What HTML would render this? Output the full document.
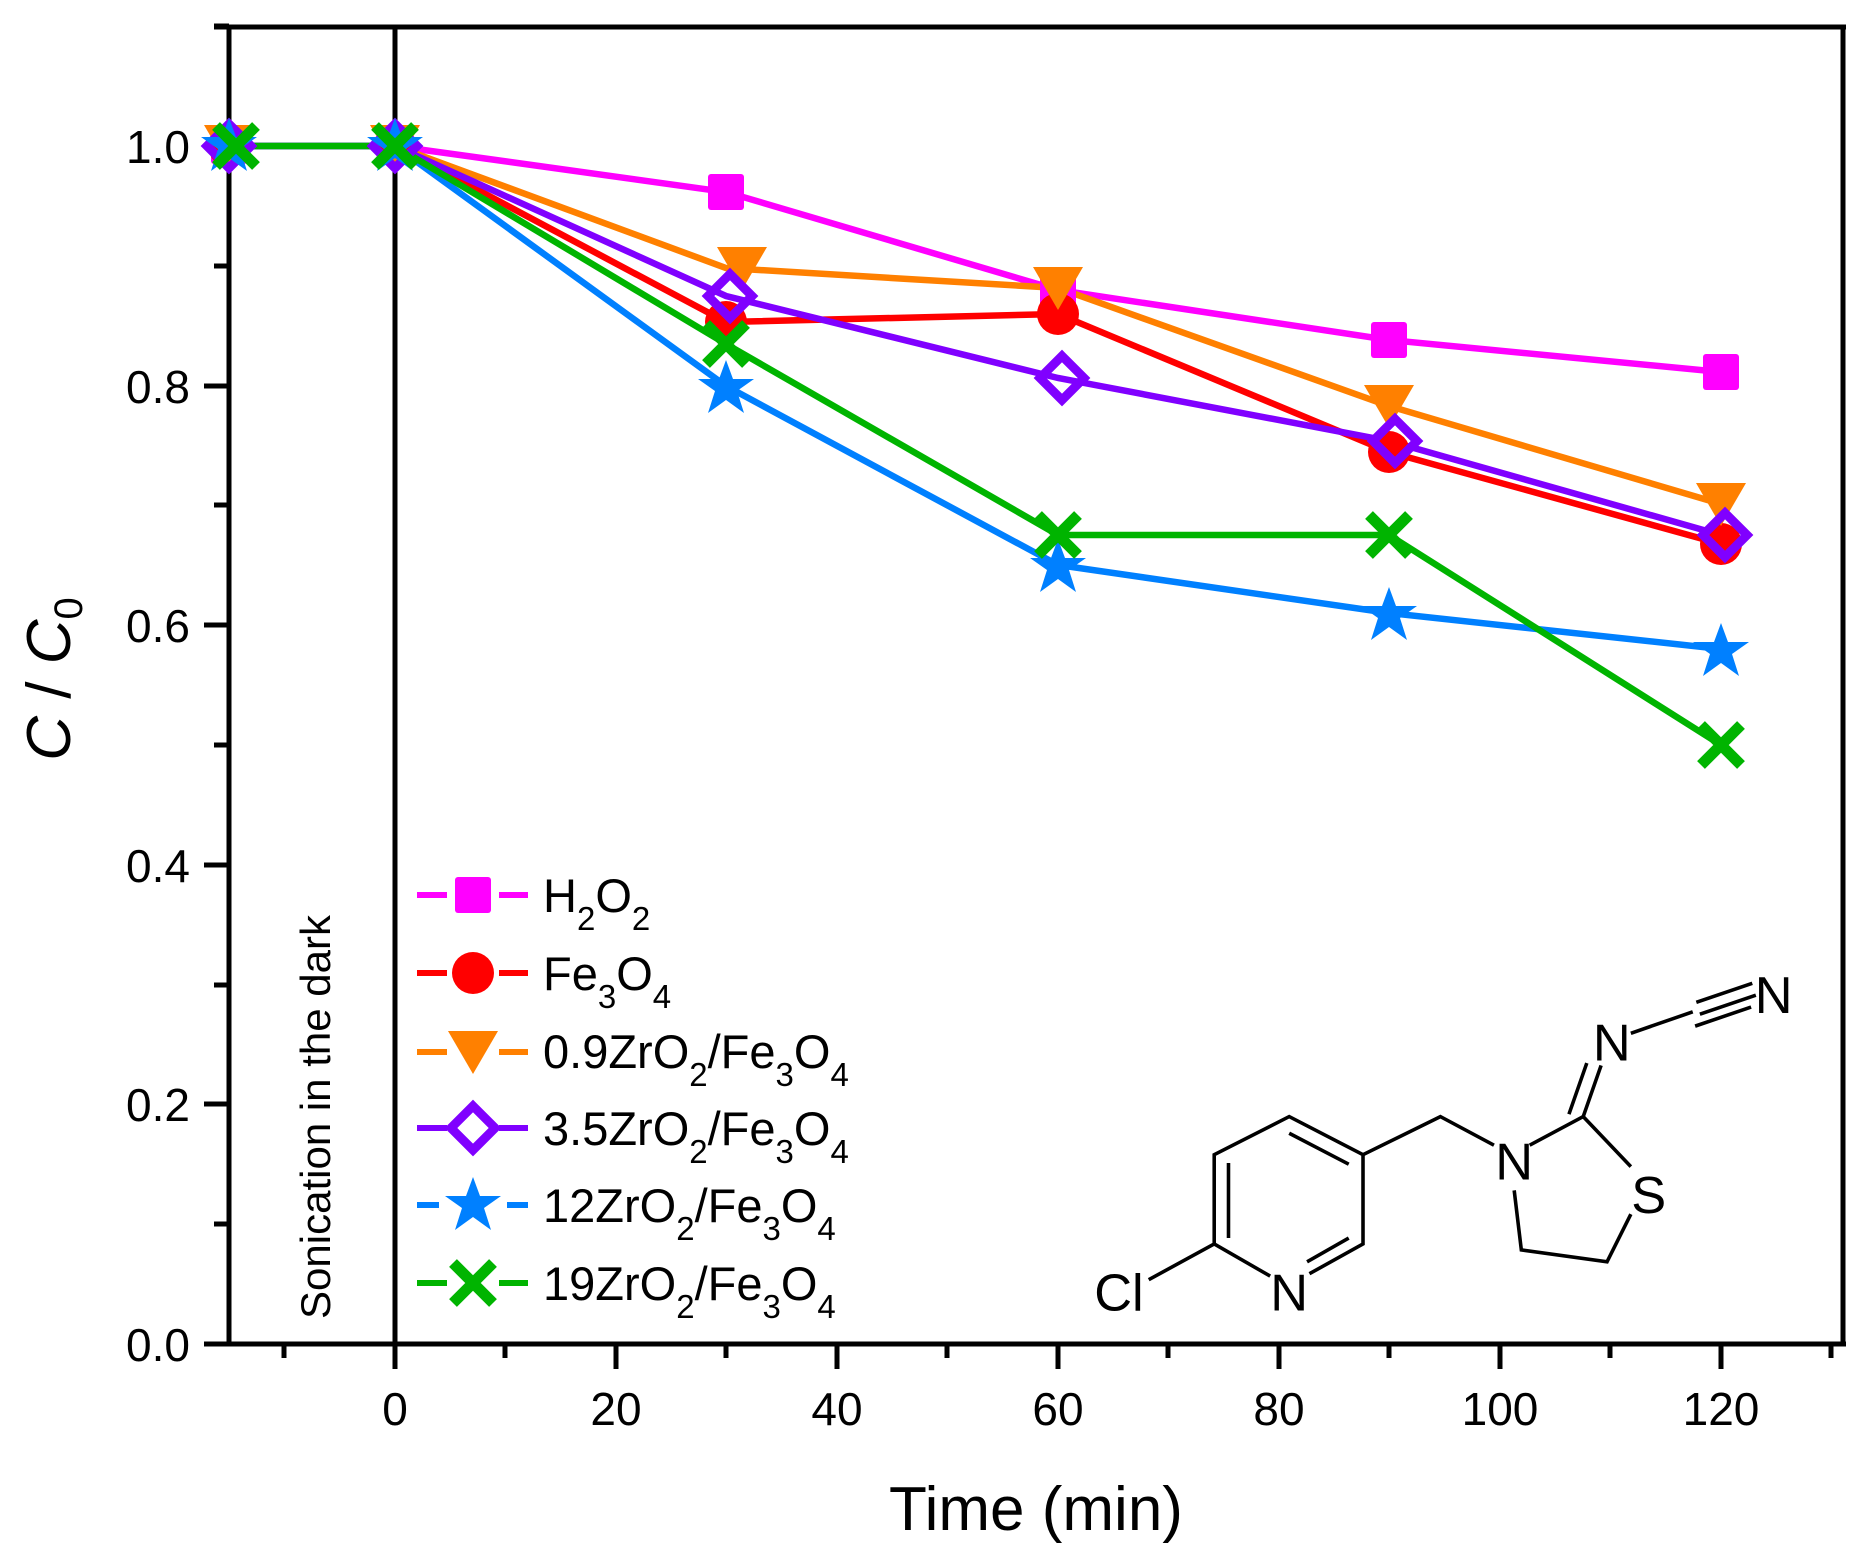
<!DOCTYPE html>
<html><head><style>body{margin:0;background:#fff}svg{display:block}</style></head><body>
<svg width="1857" height="1553" viewBox="0 0 1857 1553" xmlns="http://www.w3.org/2000/svg" font-family="Liberation Sans, sans-serif">
<defs>
<g id="sq"><rect x="-18" y="-18" width="36" height="36" rx="3" fill="#ff00ff"/></g>
<g id="ci"><circle r="21" fill="#ff0000"/></g>
<g id="tr"><path d="M-25,-21 L25,-21 L0,22 Z" fill="#ff8000"/></g>
<g id="di"><path d="M0,-22 L22,0 L0,22 L-22,0 Z" fill="none" stroke="#8000ff" stroke-width="9"/></g>
<g id="st"><path d="M0,-28 L7,-9 L28,-9 L11,3 L18,25 L0,12 L-18,25 L-11,3 L-28,-9 L-7,-9 Z" fill="#0080ff"/></g>
<g id="xx"><path d="M-20,-20 L20,20 M20,-20 L-20,20" stroke="#00b400" stroke-width="11"/></g>
</defs>
<g stroke="#000" stroke-width="5" fill="none">
<line x1="214" y1="27" x2="1846" y2="27"/>
<line x1="204" y1="1344" x2="1846" y2="1344"/>
<line x1="229" y1="27" x2="229" y2="1344"/>
<line x1="395" y1="27" x2="395" y2="1344"/>
<line x1="1843" y1="27" x2="1843" y2="1344"/>
</g>
<g stroke="#000" stroke-width="5">
<line x1="204" y1="1344" x2="229" y2="1344"/><line x1="214" y1="1224" x2="229" y2="1224"/>
<line x1="204" y1="1104" x2="229" y2="1104"/><line x1="214" y1="985" x2="229" y2="985"/>
<line x1="204" y1="865" x2="229" y2="865"/><line x1="214" y1="745" x2="229" y2="745"/>
<line x1="204" y1="625" x2="229" y2="625"/><line x1="214" y1="505" x2="229" y2="505"/>
<line x1="204" y1="386" x2="229" y2="386"/><line x1="214" y1="266" x2="229" y2="266"/>
<line x1="204" y1="146" x2="229" y2="146"/><line x1="214" y1="26" x2="229" y2="26"/>
</g>
<g stroke="#000" stroke-width="5">
<line x1="284" y1="1344" x2="284" y2="1358"/>
<line x1="395" y1="1344" x2="395" y2="1369"/><line x1="505" y1="1344" x2="505" y2="1358"/>
<line x1="616" y1="1344" x2="616" y2="1369"/><line x1="726" y1="1344" x2="726" y2="1358"/>
<line x1="837" y1="1344" x2="837" y2="1369"/><line x1="947" y1="1344" x2="947" y2="1358"/>
<line x1="1058" y1="1344" x2="1058" y2="1369"/><line x1="1168" y1="1344" x2="1168" y2="1358"/>
<line x1="1279" y1="1344" x2="1279" y2="1369"/><line x1="1389" y1="1344" x2="1389" y2="1358"/>
<line x1="1500" y1="1344" x2="1500" y2="1369"/><line x1="1610" y1="1344" x2="1610" y2="1358"/>
<line x1="1721" y1="1344" x2="1721" y2="1369"/><line x1="1831" y1="1344" x2="1831" y2="1358"/>
</g>
<g font-size="46" text-anchor="end" fill="#000">
<text x="190" y="1361">0.0</text><text x="190" y="1121">0.2</text><text x="190" y="882">0.4</text>
<text x="190" y="642">0.6</text><text x="190" y="403">0.8</text><text x="190" y="163">1.0</text>
</g>
<g font-size="46" text-anchor="middle" fill="#000">
<text x="395" y="1425">0</text><text x="616" y="1425">20</text><text x="837" y="1425">40</text>
<text x="1058" y="1425">60</text><text x="1279" y="1425">80</text><text x="1500" y="1425">100</text><text x="1721" y="1425">120</text>
</g>
<text x="1036" y="1530" font-size="62" text-anchor="middle">Time (min)</text>
<text transform="translate(70,679) rotate(-90)" font-size="62" text-anchor="middle"><tspan font-style="italic">C</tspan> / <tspan font-style="italic">C</tspan><tspan font-size="40" dy="12">0</tspan></text>
<text transform="translate(330,1117) rotate(-90)" font-size="42" text-anchor="middle">Sonication in the dark</text>
<g fill="none" stroke-width="6.5">
<polyline stroke="#ff00ff" points="229,146 395,146 726,192 1058,290 1389,340 1721,372"/>
<polyline stroke="#ff8000" points="229,146 395,146 726,268 1058,288 1389,406 1721,504"/>
<polyline stroke="#ff0000" points="229,146 395,146 726,322 1058,314 1389,452 1721,544"/>
<polyline stroke="#8000ff" points="229,146 395,146 726,296 1058,378 1389,441 1721,535"/>
<polyline stroke="#0080ff" points="229,146 395,146 726,386 1058,565 1389,613 1721,649"/>
<polyline stroke="#00b400" points="229,146 395,146 726,344 1058,535 1389,535 1721,745"/>
</g>
<g>
<use href="#sq" x="229" y="146"/><use href="#sq" x="395" y="146"/><use href="#sq" x="726" y="192"/><use href="#sq" x="1058" y="290"/><use href="#sq" x="1389" y="340"/><use href="#sq" x="1721" y="372"/>
<use href="#ci" x="229" y="146"/><use href="#ci" x="395" y="146"/><use href="#ci" x="726" y="322"/><use href="#ci" x="1058" y="314"/><use href="#ci" x="1389" y="452"/><use href="#ci" x="1721" y="544"/>
<use href="#tr" x="229" y="146"/><use href="#tr" x="395" y="146"/><use href="#tr" x="742" y="268"/><use href="#tr" x="1058" y="288"/><use href="#tr" x="1389" y="406"/><use href="#tr" x="1721" y="504"/>
<use href="#di" x="229" y="146"/><use href="#di" x="395" y="146"/><use href="#di" x="730" y="296"/><use href="#di" x="1062" y="378"/><use href="#di" x="1395" y="441"/><use href="#di" x="1725" y="535"/>
<use href="#st" x="229" y="146"/><use href="#st" x="395" y="146"/><use href="#st" x="726" y="388"/><use href="#st" x="1058" y="567"/><use href="#st" x="1389" y="615"/><use href="#st" x="1721" y="651"/>
<use href="#xx" x="236" y="146"/><use href="#xx" x="395" y="146"/><use href="#xx" x="726" y="344"/><use href="#xx" x="1058" y="535"/><use href="#xx" x="1389" y="535"/><use href="#xx" x="1721" y="745"/>
</g>
<g stroke-width="6">
<path d="M417,895h30M499,895h29" stroke="#ff00ff"/>
<path d="M417,973h30M499,973h29" stroke="#ff0000"/>
<path d="M417,1052h30M499,1052h29" stroke="#ff8000"/>
<path d="M417,1128h30M499,1128h29" stroke="#8000ff"/>
<path d="M417,1205h22M507,1205h21" stroke="#0080ff"/>
<path d="M417,1283h30M499,1283h29" stroke="#00b400"/>
</g>
<use href="#sq" x="473" y="895"/><use href="#ci" x="473" y="973"/><use href="#tr" x="473" y="1052"/>
<use href="#di" x="473" y="1128"/><use href="#st" x="473" y="1205"/><use href="#xx" x="473" y="1283"/>
<g font-size="47" fill="#000">
<text x="543" y="912">H<tspan font-size="33" dy="18">2</tspan><tspan dy="-18">O</tspan><tspan font-size="33" dy="18">2</tspan></text>
<text x="543" y="990">Fe<tspan font-size="33" dy="18">3</tspan><tspan dy="-18">O</tspan><tspan font-size="33" dy="18">4</tspan></text>
<text x="543" y="1068">0.9ZrO<tspan font-size="33" dy="18">2</tspan><tspan dy="-18">/Fe</tspan><tspan font-size="33" dy="18">3</tspan><tspan dy="-18">O</tspan><tspan font-size="33" dy="18">4</tspan></text>
<text x="543" y="1145">3.5ZrO<tspan font-size="33" dy="18">2</tspan><tspan dy="-18">/Fe</tspan><tspan font-size="33" dy="18">3</tspan><tspan dy="-18">O</tspan><tspan font-size="33" dy="18">4</tspan></text>
<text x="543" y="1222">12ZrO<tspan font-size="33" dy="18">2</tspan><tspan dy="-18">/Fe</tspan><tspan font-size="33" dy="18">3</tspan><tspan dy="-18">O</tspan><tspan font-size="33" dy="18">4</tspan></text>
<text x="543" y="1300">19ZrO<tspan font-size="33" dy="18">2</tspan><tspan dy="-18">/Fe</tspan><tspan font-size="33" dy="18">3</tspan><tspan dy="-18">O</tspan><tspan font-size="33" dy="18">4</tspan></text>
</g>
<g transform="scale(1.1904)">
<g stroke="#000" stroke-width="3" fill="none">
<path d="M965,1075 L1020,1045 L1020,970 L1083,938 L1145,970 L1145,1045 L1100,1070"/>
<path d="M1067,1072 L1020,1045"/>
<path d="M1032,1040 L1032,977 M1083,952 L1133,978 M1133,1040 L1098,1060"/>
<path d="M1145,970 L1210,938 L1255,962"/>
<path d="M1285,962 L1330,938 L1370,980 M1370,1020 L1350,1060 L1278,1050 L1272,1000"/>
<path d="M1330,938 L1345,895 M1318,936 L1333,893"/>
<path d="M1370,868 L1422,850 M1425,842 L1472,826 M1428,852 L1475,836 M1424,862 L1471,846"/>
</g>
<g font-size="44" fill="#000" text-anchor="middle">
<text x="940" y="1101">Cl</text><text x="1083" y="1101">N</text><text x="1272" y="991">N</text>
<text x="1385" y="1019">S</text><text x="1354" y="891">N</text><text x="1490" y="851">N</text>
</g>
</g>
</svg>
</body></html>
